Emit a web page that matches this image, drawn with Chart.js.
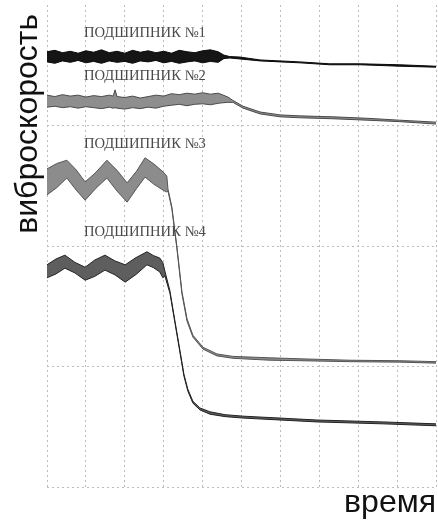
<!DOCTYPE html>
<html>
<head>
<meta charset="utf-8">
<script src="https://cdn.jsdelivr.net/npm/chart.js@4.4.1/dist/chart.umd.min.js"></script>
<style>
  html, body { margin: 0; padding: 0; background: #fff; }
  #wrap { width: 438px; height: 520px; position: relative; }
</style>
</head>
<body>
<div id="wrap"><canvas id="c" width="438" height="520"></canvas></div>
<script>
// ---- data (x: time 0..100, y: vibration velocity 0..100) ----
const xTicksStep = 10;
const yTicksStep = 25;

// Bearing 1 (black noisy band, then slow decline)
const s1X     = [0, 2, 4, 6, 8, 10, 12, 14, 16, 18, 20, 22, 24, 26, 28, 30, 32, 34, 36, 38, 40, 42, 44, 45.5, 47.0, 49.6, 54.8, 59.9, 65.0, 72.7, 80.5, 90.7, 100];
const s1Upper = [90.3, 90.6, 90.1, 90.4, 90.0, 90.5, 90.2, 90.7, 90.1, 90.4, 90.0, 90.6, 90.2, 90.5, 90.1, 90.4, 90.0, 90.6, 90.3, 90.1, 90.5, 90.7, 90.3, 89.6, 89.3, 89.2, 88.6, 88.4, 88.2, 87.8, 87.8, 87.6, 87.3];
const s1Lower = [88.2, 87.9, 88.4, 88.1, 88.5, 88.0, 88.3, 87.9, 88.4, 88.1, 88.3, 87.9, 88.4, 88.2, 88.5, 88.0, 88.3, 87.9, 88.2, 88.4, 88.0, 88.3, 88.1, 88.9, 89.0, 88.8, 88.4, 88.2, 88.0, 87.6, 87.6, 87.3, 87.1];

// Bearing 2 (grey noisy band, then decline)
const s2X     = [0, 2, 4, 6, 8, 10, 12, 14, 16, 17, 17.5, 18, 20, 22, 24, 26, 28, 30, 32, 34, 36, 38, 40, 42, 44, 45, 46.5, 47.8, 50.4, 54.8, 59.9, 65.0, 73.5, 82.3, 90.7, 100];
const s2Upper = [81.3, 81.0, 81.4, 81.1, 81.3, 80.9, 81.2, 81.0, 81.3, 81.1, 82.4, 81.0, 80.8, 81.1, 80.7, 81.0, 81.3, 81.1, 81.6, 81.4, 81.7, 81.5, 81.8, 81.5, 81.7, 81.4, 80.9, 80.2, 79.0, 77.8, 77.2, 77.0, 76.8, 76.5, 76.1, 75.7];
const s2Lower = [78.8, 79.0, 78.7, 78.9, 78.6, 78.9, 78.7, 78.5, 78.8, 78.6, 78.7, 78.6, 78.4, 78.7, 78.5, 78.8, 78.6, 79.0, 79.2, 79.4, 79.1, 79.4, 79.5, 79.3, 79.6, 79.7, 79.8, 79.8, 78.6, 77.4, 76.8, 76.6, 76.4, 76.1, 75.8, 75.3];

// Bearing 3 (grey wavy band, then steep drop)
const s3X     = [0, 2.5, 5.1, 7.5, 9.8, 12.6, 15.4, 18.0, 20.6, 23.0, 25.2, 27.5, 29.8, 30.8, 31.1, 32.1, 33.4, 34.7, 36.0, 37.5, 40.1, 43.7, 47.8, 57.3, 65.0, 77.9, 90.7, 100];
const s3Upper = [66.0, 67.1, 67.8, 65.8, 63.3, 65.3, 67.8, 65.7, 63.1, 65.5, 68.3, 67.0, 65.4, 64.5, 61.8, 58.1, 49.8, 40.5, 34.9, 31.5, 29.0, 27.6, 27.1, 26.8, 26.6, 26.3, 26.2, 26.0];
const s3Lower = [60.6, 62.1, 64.1, 61.6, 59.5, 62.0, 64.1, 61.4, 59.1, 61.9, 64.3, 62.8, 61.6, 61.2, 61.4, 57.7, 49.4, 40.0, 34.4, 31.1, 28.6, 27.2, 26.7, 26.3, 26.2, 26.0, 25.9, 25.7];

// Bearing 4 (dark grey wavy band, then steep drop)
const s4X     = [0, 2.3, 4.6, 7.2, 9.8, 12.3, 14.9, 17.5, 20.1, 22.9, 25.7, 27.4, 29.0, 29.8, 30.3, 31.6, 32.9, 34.2, 35.2, 36.2, 37.5, 39.3, 41.9, 45.8, 50.4, 59.9, 69.4, 86.4, 100];
const s4Upper = [46.1, 47.3, 48.1, 46.6, 45.6, 47.1, 48.1, 46.9, 46.1, 47.6, 48.8, 48.0, 47.5, 46.5, 44.8, 40.7, 34.4, 28.2, 23.4, 20.3, 17.8, 16.4, 15.6, 15.0, 14.7, 14.3, 13.9, 13.5, 13.1];
const s4Lower = [43.4, 44.2, 45.4, 44.4, 42.9, 43.7, 45.0, 44.0, 42.5, 44.1, 46.1, 45.5, 44.6, 43.4, 43.8, 40.2, 34.0, 27.8, 23.0, 19.9, 17.4, 16.0, 15.1, 14.6, 14.3, 13.9, 13.5, 13.1, 12.7];

// Curve labels
const seriesNames  = ['ПОДШИПНИК №1', 'ПОДШИПНИК №2', 'ПОДШИПНИК №3', 'ПОДШИПНИК №4'];
const labelAnchorX = [9.5, 9.5, 9.5, 9.5];
const labelAnchorY = [93.4, 84.4, 70.3, 52.1];

const yTitle = 'виброскорость ';
const xTitle = 'время';

// ---- build chart ----
function pts(xs, ys) { return xs.map((x, i) => ({ x: x, y: ys[i] })); }

const styles = [
  { fill: '#151515', line: '#0a0a0a' },
  { fill: '#8e8e8e', line: '#4a4a4a' },
  { fill: '#8c8c8c', line: '#555555' },
  { fill: '#5e5e5e', line: '#222222' }
];
const seriesX = [s1X, s2X, s3X, s4X];
const seriesU = [s1Upper, s2Upper, s3Upper, s4Upper];
const seriesL = [s1Lower, s2Lower, s3Lower, s4Lower];

const datasets = [];
for (let i = 0; i < 4; i++) {
  datasets.push({
    label: seriesNames[i] + ' upper',
    data: pts(seriesX[i], seriesU[i]),
    borderColor: styles[i].line, borderWidth: 1, pointRadius: 0, tension: 0, fill: false
  });
  datasets.push({
    label: seriesNames[i] + ' lower',
    data: pts(seriesX[i], seriesL[i]),
    borderColor: styles[i].line, borderWidth: 1, pointRadius: 0, tension: 0,
    fill: '-1', backgroundColor: styles[i].fill
  });
}

const curveLabels = {
  id: 'curveLabels',
  afterDatasetsDraw(chart) {
    const { ctx, scales } = chart;
    ctx.save();
    ctx.font = '14.6px "Liberation Serif", "DejaVu Serif", serif';
    ctx.fillStyle = '#4a4a4a';
    ctx.textAlign = 'left';
    ctx.textBaseline = 'alphabetic';
    for (let i = 0; i < seriesNames.length; i++) {
      ctx.fillText(seriesNames[i], scales.x.getPixelForValue(labelAnchorX[i]), scales.y.getPixelForValue(labelAnchorY[i]));
    }
    ctx.restore();
  }
};

const gridColor = (ctx) => (ctx.tick && ctx.tick.value === 100 && ctx.scale.axis === 'y') ? 'rgba(0,0,0,0)' : '#bdbdbd';

new Chart(document.getElementById('c'), {
  type: 'line',
  data: { datasets: datasets },
  options: {
    responsive: false,
    animation: false,
    events: [],
    layout: { padding: { left: 9, top: 5, right: 2, bottom: 0 } },
    plugins: { legend: { display: false }, tooltip: { enabled: false } },
    scales: {
      x: {
        type: 'linear', min: 0, max: 100,
        ticks: { display: false, stepSize: xTicksStep },
        grid: { color: gridColor, drawTicks: false, lineWidth: 1 },
        border: { display: false, dash: [2, 3] },
        title: { display: true, text: xTitle, align: 'end', color: '#111',
                 font: { family: 'Liberation Sans', size: 32, lineHeight: 1.03125 }, padding: { top: 0, bottom: 0 } }
      },
      y: {
        type: 'linear', min: 0, max: 100,
        ticks: { display: false, stepSize: yTicksStep },
        grid: { color: gridColor, drawTicks: false, lineWidth: 1 },
        border: { display: false, dash: [2, 3] },
        title: { display: true, text: yTitle, align: 'end', color: '#111',
                 font: { family: 'Liberation Sans', size: 32, lineHeight: 1.1875 }, padding: { top: 0, bottom: 0 } }
      }
    }
  },
  plugins: [curveLabels]
});
</script>
</body>
</html>
